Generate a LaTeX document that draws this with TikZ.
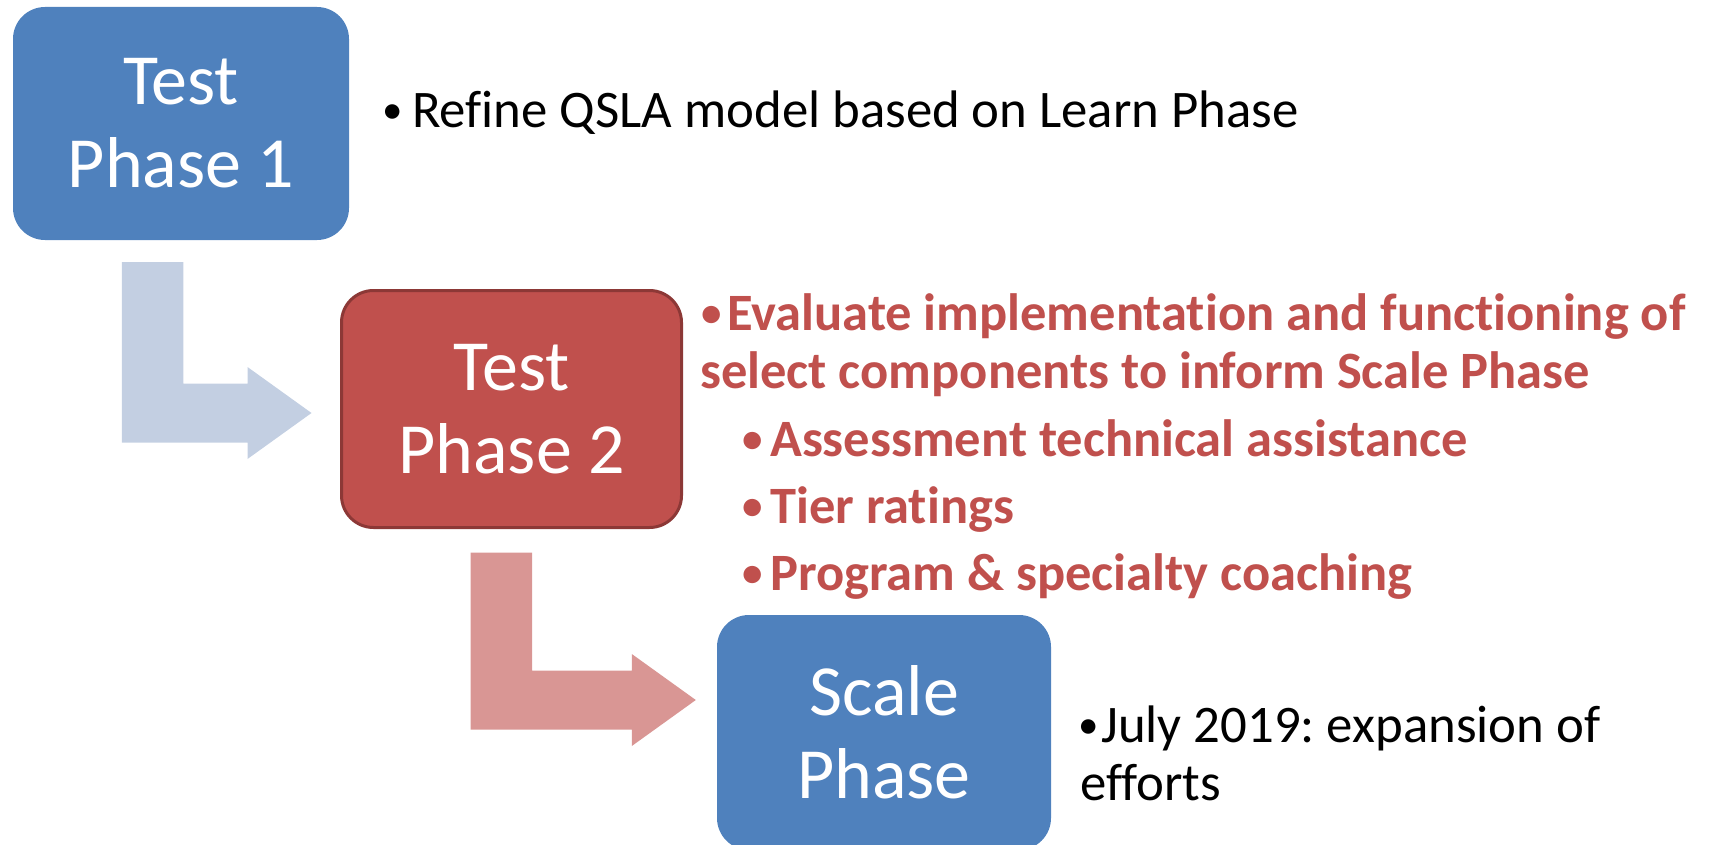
\documentclass[tikz,border=0pt]{standalone}
\usepackage{fontspec}
\setmainfont[Ligatures=NoCommon]{Carlito}
\usetikzlibrary{calc}
\frenchspacing

\definecolor{phaseblue}{RGB}{79,129,189}
\definecolor{phasered}{RGB}{192,80,77}
\definecolor{phasedark}{RGB}{140,56,54}
\definecolor{bendblue}{RGB}{195,207,226}
\definecolor{bendred}{RGB}{217,150,148}

% small bullet, set in a box of the given width
\newcommand{\dotmark}[1]{\makebox[#1][l]{\fontsize{41}{0}\selectfont\raisebox{4pt}{•}}}

\begin{document}
\begin{tikzpicture}[x=1pt, y=1pt,
    phasebox/.style={rounded corners=32pt, text=white, align=center, inner sep=0pt,
      font=\fontsize{72}{83}\selectfont},
    note/.style={anchor=base west, inner sep=0pt, font=\fontsize{52.8}{60}\selectfont},
    rednote/.style={anchor=base west, inner sep=0pt, text=phasered,
      font=\fontsize{52.5}{60}\selectfont\bfseries}]
  \useasboundingbox (0,0) rectangle (1710,-845);

  % phases
  \node[phasebox, fill=phaseblue, minimum width=336pt, minimum height=233pt] (p1) at (181,-123.5) {Test\\Phase 1};
  \node[phasebox, fill=phasered, draw=phasedark, line width=3pt, minimum width=340pt, minimum height=237pt] (p2) at (511.5,-409) {Test\\Phase 2};
  \node[phasebox, fill=phaseblue, minimum width=334pt, minimum height=235pt] (p3) at (884,-732.5) {Scale\\Phase};

  % bent arrows
  \coordinate (a1) at ($(p1.south west)+(109,-22)$);
  \coordinate (t1) at ($(p2.west)+(-28.5,-4)$);
  \fill[bendblue] (a1) -- ++(61.5,0) |- ($(t1)+(-64,29.5)$) -- ($(t1)+(-64,46)$) -- (t1)
    -- ($(t1)+(-64,-46)$) -- ($(t1)+(-64,-29.5)$) -| (a1) -- cycle;
  \coordinate (a2) at ($(p2.south west)+(130.5,-23.5)$);
  \coordinate (t2) at ($(p3.west)+(-21,32.5)$);
  \fill[bendred] (a2) -- ++(61.5,0) |- ($(t2)+(-64,29.5)$) -- ($(t2)+(-64,46)$) -- (t2)
    -- ($(t2)+(-64,-46)$) -- ($(t2)+(-64,-29.5)$) -| (a2) -- cycle;

  % notes
  \node[note] (refine) at (382,-128) {\dotmark{30pt}Refine QSLA model based on Learn Phase};
  \node[rednote] (eval) at (701,-330) {\dotmark{26pt}Evaluate implementation and functioning of};
  \node[rednote] (select) at (700,-388) {select components to inform Scale Phase};
  \node[rednote] (assess) at (742,-456) {\dotmark{28pt}Assessment technical assistance};
  \node[rednote] (tier) at (742,-523) {\dotmark{28pt}Tier ratings};
  \node[rednote] (coach) at (742,-590) {\dotmark{28pt}Program \& specialty coaching};
  \node[note] (july) at (1078,-742) {\dotmark{23pt}July 2019: expansion of};
  \node[note] (efforts) at (1080,-800) {efforts};
\end{tikzpicture}
\end{document}
